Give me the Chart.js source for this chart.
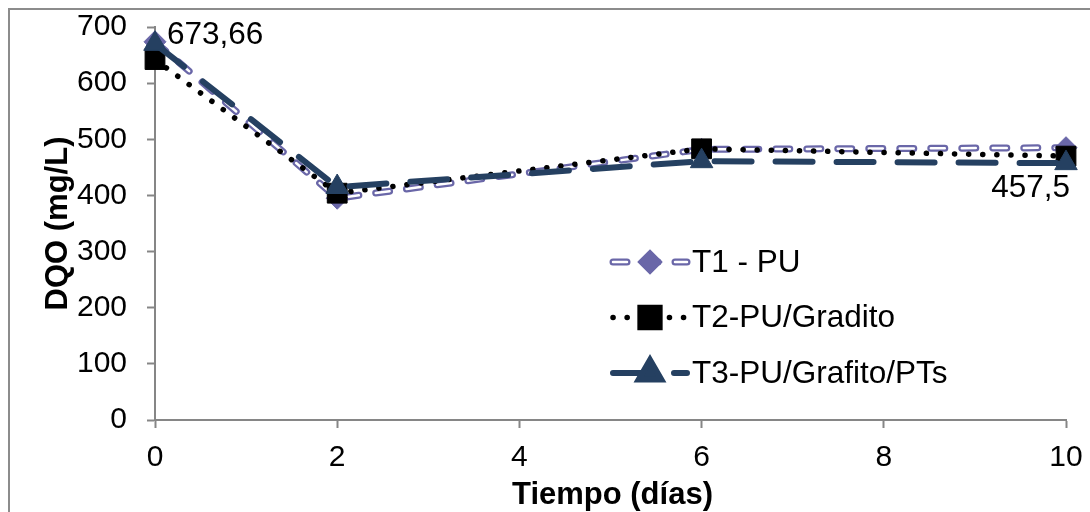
<!DOCTYPE html>
<html>
<head>
<meta charset="utf-8">
<script src="https://cdn.jsdelivr.net/npm/chart.js@4.4.1/dist/chart.umd.min.js"></script>
<style>
  html, body { margin: 0; padding: 0; background: #fff; overflow: hidden; }
  #marco { position: absolute; left: 8px; top: 8px; width: 1200px; height: 600px;
           border-left: 2px solid #8c8c8c; border-top: 2px solid #8c8c8c; }
  canvas { position: absolute; left: 0; top: 0; }
</style>
</head>
<body>
<div id="marco"></div>
<canvas id="dqoChart" width="1090" height="512"></canvas>
<script>
// Datos: DQO (mg/L) frente al tiempo (días)
const dias = [0, 2, 6, 10];
const t1 = [673.66, 395, 482, 485];
const t2 = [642, 404, 483, 470];
const t3 = [670, 415, 461, 457.5];
const series = ['T1 - PU', 'T2-PU/Gradito', 'T3-PU/Grafito/PTs'];
const xTicks = [0, 2, 4, 6, 8, 10];
const yTicks = [0, 100, 200, 300, 400, 500, 600, 700];
const tituloX = 'Tiempo (días)';
const tituloY = 'DQO (mg/L)';

const LAV = '#6a67a8';
const AZUL = '#254061';
const GRIS = '#868686';
const FUENTE = "'Liberation Sans', Arial, sans-serif";

Chart.defaults.font.family = FUENTE;
Chart.defaults.font.size = 30;
Chart.defaults.color = '#000';

const puntos = arr => dias.map((d, i) => ({ x: d, y: arr[i] }));

// leyenda dentro del área: muestra de línea + marcador + texto
const leyenda = {
  id: 'leyenda',
  afterDraw(chart) {
    const ctx = chart.ctx;
    const ds = chart.data.datasets;
    const grupos = [[0, 1], [2], [3]];
    const x0 = 613, x1 = 687, xm = 650, xt = 692;
    grupos.forEach((g, i) => {
      const y = 262 + i * 55.5;
      ctx.save();
      g.forEach(k => {
        const d = ds[k];
        ctx.beginPath();
        ctx.strokeStyle = d.borderColor;
        ctx.lineWidth = d.borderWidth;
        ctx.lineCap = d.borderCapStyle;
        ctx.setLineDash(d.borderDash);
        ctx.moveTo(x0, y);
        ctx.lineTo(x1, y);
        ctx.stroke();
      });
      ctx.setLineDash([]);
      const p = ds[g[g.length - 1]];
      ctx.fillStyle = p.pointBackgroundColor;
      ctx.strokeStyle = p.pointBorderColor;
      Chart.helpers.drawPoint(ctx, {
        pointStyle: p.pointStyle, radius: p.pointRadius, rotation: 0, borderWidth: 1
      }, xm, y);
      ctx.fillStyle = '#000';
      ctx.font = '31.5px ' + FUENTE;
      ctx.textAlign = 'left';
      ctx.textBaseline = 'middle';
      ctx.fillText(series[i], xt, y + 1);
      ctx.restore();
    });
  }
};

// etiquetas de valor y títulos de los ejes
const rotulos = {
  id: 'rotulos',
  afterDraw(chart) {
    const ctx = chart.ctx;
    const coma = v => String(v).replace('.', ',');
    ctx.save();
    ctx.fillStyle = '#000';
    ctx.font = '31.5px ' + FUENTE;
    ctx.textBaseline = 'alphabetic';

    const p1 = chart.getDatasetMeta(1).data[0];
    ctx.textAlign = 'left';
    ctx.fillText(coma(t1[0]), p1.x + 12, p1.y + 2);

    const p3 = chart.getDatasetMeta(3).data[3];
    ctx.textAlign = 'right';
    ctx.fillText(coma(t3[3]), p3.x + 4, p3.y + 34);

    const a = chart.chartArea;
    ctx.font = 'bold 31px ' + FUENTE;
    ctx.textAlign = 'center';
    ctx.fillText(tituloX, (a.left + a.right) / 2 + 2, 504);
    ctx.translate(67, (a.top + a.bottom) / 2);
    ctx.rotate(-Math.PI / 2);
    ctx.fillText(tituloY, 0, 0);
    ctx.restore();
  }
};

const ejeComun = {
  border: { color: GRIS, width: 2 },
  grid: { drawOnChartArea: false, drawTicks: true, tickLength: 8, tickColor: GRIS, tickWidth: 2 }
};

new Chart(document.getElementById('dqoChart'), {
  type: 'line',
  data: {
    datasets: [
      {
        // T1: trazo exterior del doble línea
        label: series[0],
        data: puntos(t1),
        borderColor: LAV,
        borderWidth: 7,
        borderDash: [14, 17],
        borderCapStyle: 'round',
        borderJoinStyle: 'round',
        pointRadius: 0,
        order: 4
      },
      {
        // T1: trazo interior blanco + rombos
        label: series[0],
        data: puntos(t1),
        borderColor: '#ffffff',
        borderWidth: 2.5,
        borderDash: [14, 17],
        borderCapStyle: 'round',
        borderJoinStyle: 'round',
        pointStyle: 'rectRot',
        pointRadius: 11,
        pointBackgroundColor: LAV,
        pointBorderColor: LAV,
        pointBorderWidth: 1,
        order: 3
      },
      {
        label: series[1],
        data: puntos(t2),
        borderColor: '#000000',
        borderWidth: 5.5,
        borderDash: [0.1, 14],
        borderCapStyle: 'round',
        borderJoinStyle: 'round',
        pointStyle: 'rect',
        pointRadius: 14,
        pointBackgroundColor: '#000000',
        pointBorderColor: '#000000',
        pointBorderWidth: 1,
        order: 2
      },
      {
        label: series[2],
        data: puntos(t3),
        borderColor: AZUL,
        borderWidth: 6,
        borderDash: [37, 24],
        borderCapStyle: 'round',
        borderJoinStyle: 'round',
        pointStyle: 'triangle',
        pointRadius: 13,
        pointBackgroundColor: AZUL,
        pointBorderColor: AZUL,
        pointBorderWidth: 1,
        order: 1
      }
    ]
  },
  options: {
    responsive: false,
    animation: false,
    layout: { padding: { left: 0, top: 27, right: 24, bottom: 0 } },
    plugins: { legend: { display: false }, tooltip: { enabled: false } },
    elements: { line: { tension: 0, fill: false } },
    datasets: { line: { clip: false } },
    scales: {
      x: {
        type: 'linear',
        min: xTicks[0],
        max: xTicks[xTicks.length - 1],
        ...ejeComun,
        ticks: { padding: 12, maxRotation: 0 },
        afterBuildTicks: ax => { ax.ticks = xTicks.map(v => ({ value: v })); },
        afterFit: ax => { ax.height = 92; ax.paddingLeft = 0; ax.paddingRight = 0; }
      },
      y: {
        min: yTicks[0],
        max: yTicks[yTicks.length - 1],
        ...ejeComun,
        ticks: { padding: 20 },
        afterBuildTicks: ax => { ax.ticks = yTicks.map(v => ({ value: v })); },
        afterFit: ax => { ax.width = 155; ax.paddingTop = 0; ax.paddingBottom = 0; }
      }
    }
  },
  plugins: [leyenda, rotulos]
});
</script>
</body>
</html>
